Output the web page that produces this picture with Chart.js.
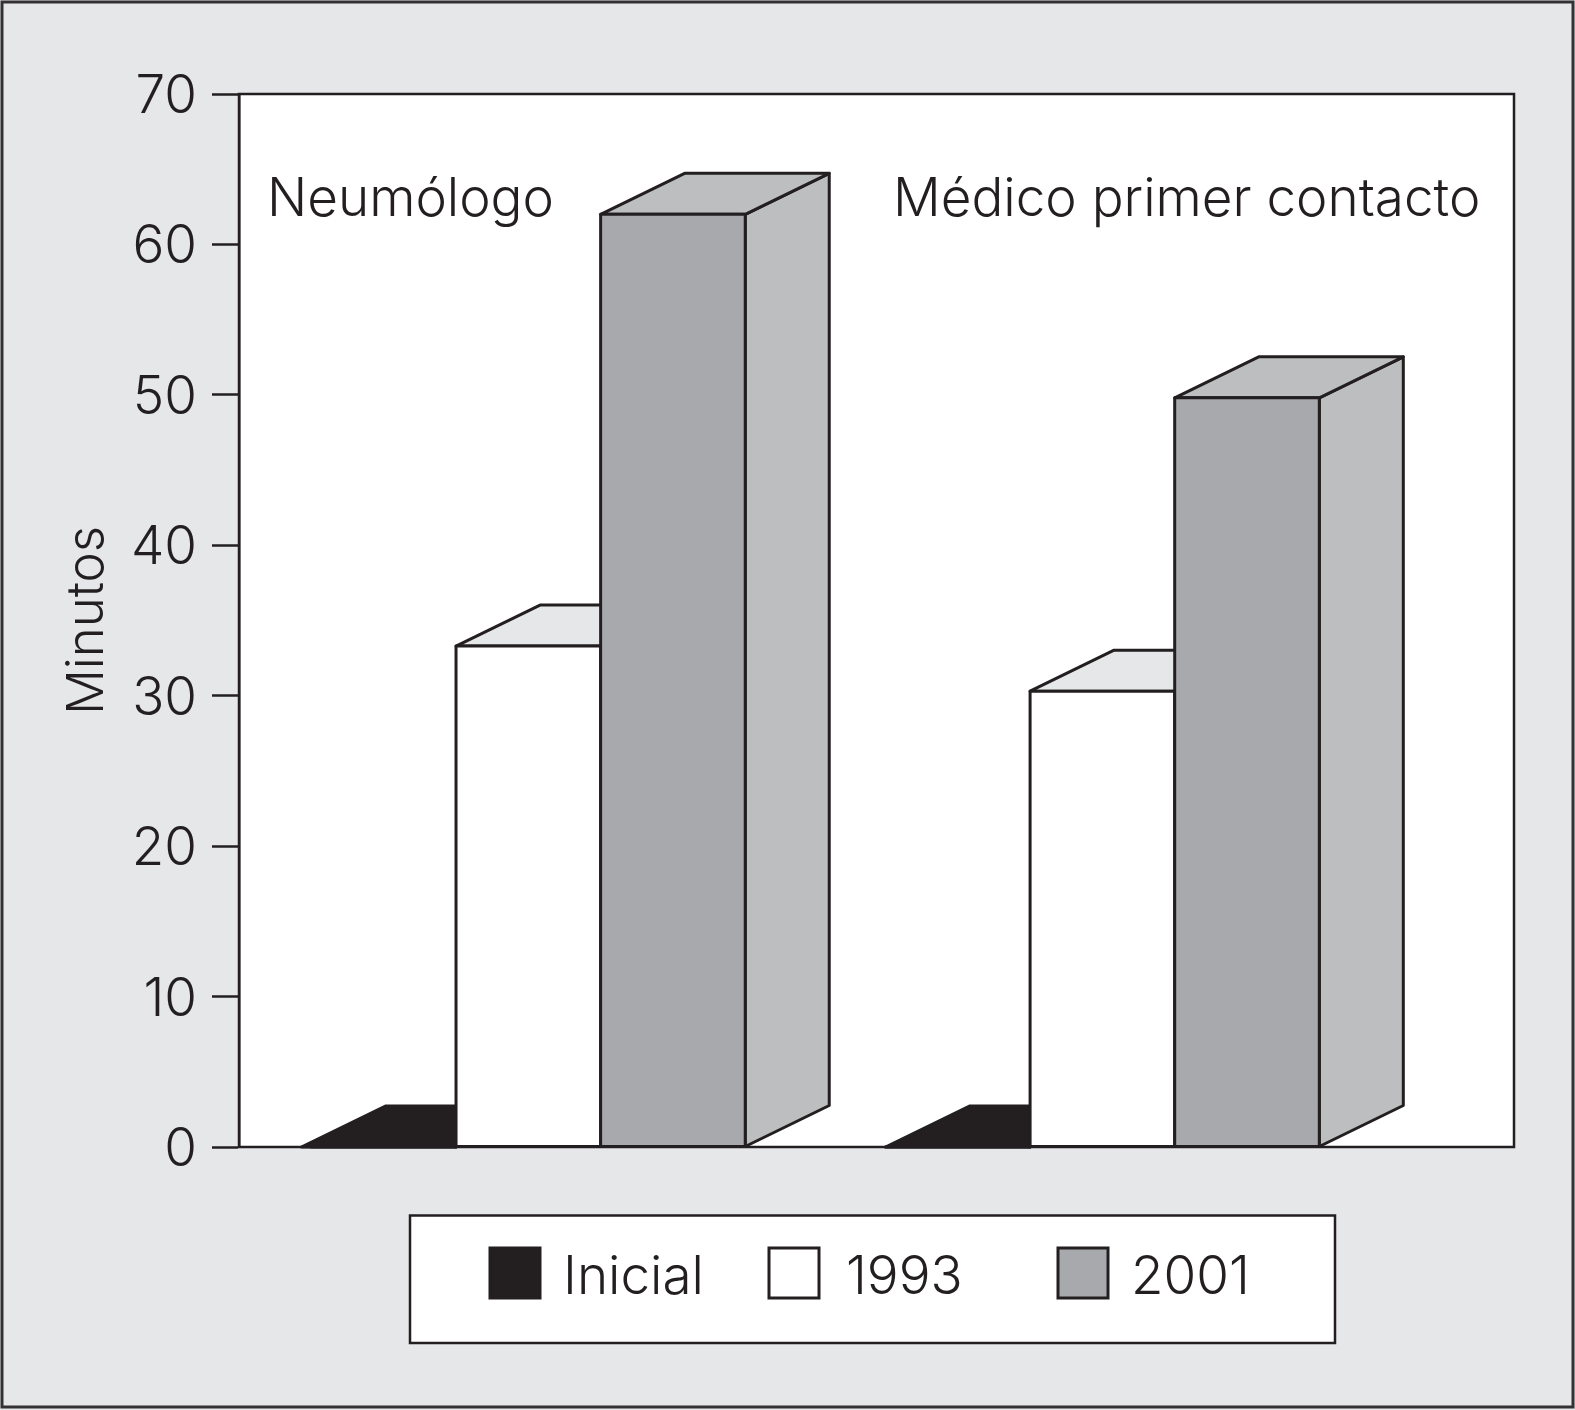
<!DOCTYPE html>
<html lang="es">
<head>
<meta charset="utf-8">
<title>Minutos</title>
<script src="https://cdn.jsdelivr.net/npm/chart.js@4"></script>
<style>
  html, body { margin: 0; padding: 0; background: #e6e7e9; }
  canvas { display: block; }
</style>
</head>
<body>
<canvas id="chart" width="1575" height="1410"></canvas>
<script>
const categories = ['Neumólogo', 'Médico primer contacto'];
const seriesNames = ['Inicial', '1993', '2001'];
const inicial = [0, 0];
const year1993 = [33.3, 30.3];
const year2001 = [62, 49.8];
const yTicks = [0, 10, 20, 30, 40, 50, 60, 70];

const INK = '#231f20';
const FAMILY = 'Inter, "Liberation Sans", sans-serif';
const FONT = '300 53px ' + FAMILY;
const DEPTH_X = 84;
const DEPTH_Y = 41;

const toPoints = (values) => values.map((v, i) => ({ x: i, y: v }));

const face = (ctx, pts, fill) => {
  ctx.beginPath();
  pts.forEach((p, i) => (i ? ctx.lineTo(p[0], p[1]) : ctx.moveTo(p[0], p[1])));
  ctx.closePath();
  if (fill) {
    ctx.fillStyle = fill;
    ctx.fill();
  }
  ctx.lineJoin = 'round';
  ctx.lineWidth = 3;
  ctx.strokeStyle = INK;
  ctx.stroke();
};

// draws the series left to right, top and side faces first, so the later bar covers the earlier one
const depthBars = {
  id: 'depthBars',
  beforeDatasetsDraw(chart) {
    const { ctx } = chart;
    chart.data.datasets.forEach((ds, d) => {
      const meta = chart.getDatasetMeta(d);
      meta.data.forEach((bar, i) => {
        const left = bar.x - bar.width / 2 - (ds.leftStretch ? ds.leftStretch[i] : 0);
        const right = bar.x + bar.width / 2;
        const top = bar.y;
        const bottom = bar.base;
        ctx.save();
        face(ctx, [[right, top], [right + DEPTH_X, top - DEPTH_Y], [right + DEPTH_X, bottom - DEPTH_Y], [right, bottom]], ds.sideColor);
        face(ctx, [[left, top], [left + DEPTH_X, top - DEPTH_Y], [right + DEPTH_X, top - DEPTH_Y], [right, top]], ds.topColor);
        ctx.restore();
      });
      meta.controller.draw();
      // front outline, centred on the bar edge like the other faces
      meta.data.forEach((bar) => {
        const left = bar.x - bar.width / 2;
        const right = bar.x + bar.width / 2;
        ctx.save();
        face(ctx, [[left, bar.y], [right, bar.y], [right, bar.base], [left, bar.base]]);
        ctx.restore();
      });
    });
    return false;
  },
};

const panel = {
  id: 'panel',
  beforeDraw(chart) {
    const { ctx, chartArea: a } = chart;
    ctx.save();
    ctx.fillStyle = '#e6e7e9';
    ctx.fillRect(0, 0, chart.width, chart.height);
    ctx.strokeStyle = '#333132';
    ctx.lineWidth = 3;
    ctx.strokeRect(2, 2, chart.width - 4, chart.height - 5);
    ctx.fillStyle = '#ffffff';
    ctx.fillRect(a.left, a.top, a.right - a.left, a.bottom - a.top);
    ctx.restore();
  },
  afterDraw(chart) {
    const { ctx, chartArea: a } = chart;
    ctx.save();
    ctx.strokeStyle = INK;
    ctx.lineWidth = 2.5;
    ctx.strokeRect(a.left, a.top, a.right - a.left, a.bottom - a.top);

    ctx.font = FONT;
    ctx.fillStyle = INK;
    ctx.textBaseline = 'alphabetic';
    ctx.fillText(categories[0], 267, 216);
    ctx.fillText(categories[1], 893, 216);

    // legend box
    ctx.fillStyle = '#ffffff';
    ctx.fillRect(410, 1215.5, 925, 127.5);
    ctx.strokeRect(410, 1215.5, 925, 127.5);
    const swatchX = [490, 769, 1058];
    const textX = [563, 846, 1131];
    chart.data.datasets.forEach((ds, i) => {
      ctx.fillStyle = ds.backgroundColor;
      ctx.lineWidth = 3;
      ctx.fillRect(swatchX[i], 1248, 50, 50);
      ctx.strokeRect(swatchX[i], 1248, 50, 50);
      ctx.fillStyle = INK;
      ctx.fillText(ds.label, textX[i], 1294);
    });
    ctx.restore();
  },
};

new Chart(document.getElementById('chart'), {
  type: 'bar',
  data: {
    datasets: [
      {
        label: seriesNames[0], data: toPoints(inicial),
        backgroundColor: INK, sideColor: INK, topColor: INK, leftStretch: [10, 0],
        borderWidth: 0,
      },
      {
        label: seriesNames[1], data: toPoints(year1993),
        backgroundColor: '#ffffff', sideColor: '#e6e7e8', topColor: '#e6e7e8',
        borderWidth: 0,
      },
      {
        label: seriesNames[2], data: toPoints(year2001),
        backgroundColor: '#a7a9ac', sideColor: '#bcbec0', topColor: '#bcbec0',
        borderWidth: 0,
      },
    ],
  },
  options: {
    responsive: false,
    animation: false,
    devicePixelRatio: 1,
    layout: { padding: { top: 94, right: 61, bottom: 263, left: 0 } },
    datasets: { bar: { categoryPercentage: 0.7557, barPercentage: 1 } },
    plugins: { legend: { display: false }, tooltip: { enabled: false } },
    scales: {
      x: {
        type: 'linear',
        display: false,
        offset: false,
        min: -0.504,
        max: 1.717,
        afterBuildTicks: (scale) => { scale.ticks = categories.map((c, i) => ({ value: i })); },
      },
      y: {
        min: 0,
        max: 70,
        afterBuildTicks: (scale) => { scale.ticks = yTicks.map((v) => ({ value: v })); },
        afterFit: (scale) => { scale.width = 239; },
        grid: { drawOnChartArea: false, drawTicks: true, tickLength: 27, tickColor: INK, tickWidth: 2.5 },
        border: { color: INK, width: 2.5 },
        ticks: {
          color: INK,
          padding: 15,
          // blank first line nudges the digits down to sit centred on the tick
          callback: (v) => ['', String(v)],
          font: { family: FAMILY, size: 53, weight: '300', lineHeight: 0.113 },
        },
        title: {
          display: true,
          text: 'Minutos',
          color: INK,
          padding: { top: 57, bottom: 0 },
          font: { family: FAMILY, size: 51, weight: '300' },
        },
      },
    },
  },
  plugins: [panel, depthBars],
});
</script>
</body>
</html>
